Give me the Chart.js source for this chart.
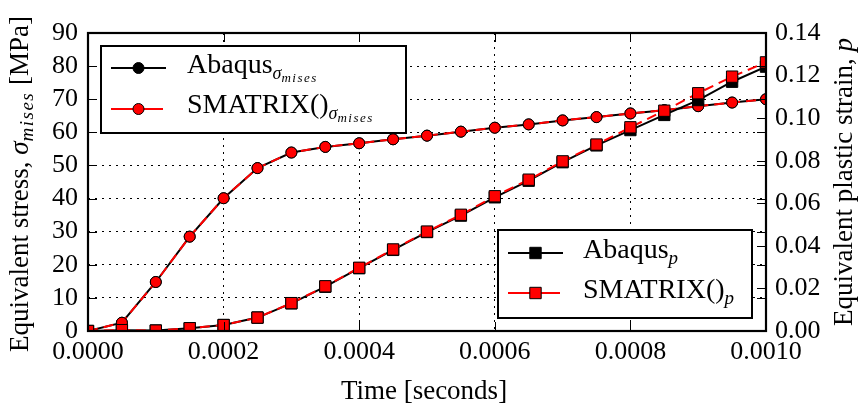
<!DOCTYPE html>
<html>
<head>
<meta charset="utf-8">
<script src="https://cdn.jsdelivr.net/npm/chart.js@4.4.1/dist/chart.umd.min.js"></script>
<style>
html, body { margin: 0; padding: 0; background: #fff; }
#wrap { width: 860px; height: 410px; }
</style>
</head>
<body>
<div id="wrap"><canvas id="grafica" width="860" height="410"></canvas></div>
<script>
// Tiempo de la simulacion [s]
var tiempo = [0, 0.00005, 0.0001, 0.00015, 0.0002, 0.00025, 0.0003, 0.00035, 0.0004, 0.00045, 0.0005,
              0.00055, 0.0006, 0.00065, 0.0007, 0.00075, 0.0008, 0.00085, 0.0009, 0.00095, 0.001];

// Tension equivalente de von Mises [MPa]
var tensionAbaqus  = [0, 2.5, 14.8, 28.5, 40.1, 49.2, 53.9, 55.6, 56.7, 57.9, 59.0,
                      60.2, 61.4, 62.4, 63.6, 64.6, 65.7, 66.7, 67.9, 69.0, 70.0];
var tensionSmatrix = [0, 2.5, 14.8, 28.5, 40.1, 49.2, 53.9, 55.6, 56.7, 57.9, 59.0,
                      60.2, 61.4, 62.4, 63.6, 64.6, 65.7, 66.7, 67.9, 69.0, 70.0];

// Deformacion plastica equivalente p
var deformAbaqus  = [0, 0.0004, 0.0002, 0.0013, 0.0028, 0.0063, 0.0130, 0.0208, 0.0295, 0.0381, 0.0465,
                     0.0542, 0.0628, 0.0706, 0.0793, 0.0872, 0.0944, 0.1015, 0.1085, 0.1171, 0.1242];
var deformSmatrix = [0, 0.0004, 0.0002, 0.0013, 0.0028, 0.0063, 0.0131, 0.0210, 0.0297, 0.0383, 0.0467,
                     0.0546, 0.0633, 0.0711, 0.0797, 0.0876, 0.0957, 0.1035, 0.1117, 0.1195, 0.1262];

// Nombres de las series (texto base + subindice)
var nombres = ["Abaqus", "SMATRIX()"];

var fuente = "'Liberation Serif', 'Times New Roman', serif";

function puntos(xs, ys) {
  var lista = [];
  for (var i = 0; i < xs.length; i++) lista.push({ x: xs[i], y: ys[i] });
  return lista;
}

// Dibuja un texto formado por partes: [texto, fuente, desplazamiento, espaciado]
function textoCompuesto(ctx, partes, x, y, centrado) {
  var ancho = 0;
  partes.forEach(function (p) {
    ctx.font = p[1];
    ctx.letterSpacing = (p[3] || 0) + "px";
    ancho += ctx.measureText(p[0]).width;
  });
  var cx = centrado ? x - ancho / 2 : x;
  partes.forEach(function (p) {
    ctx.font = p[1];
    ctx.letterSpacing = (p[3] || 0) + "px";
    ctx.fillText(p[0], cx, y + p[2]);
    cx += ctx.measureText(p[0]).width;
  });
  ctx.letterSpacing = "0px";
}

function marcador(ctx, tipo, x, y, relleno) {
  ctx.save();
  ctx.fillStyle = relleno;
  ctx.strokeStyle = "#000";
  ctx.lineWidth = 1;
  ctx.setLineDash([]);
  ctx.beginPath();
  if (tipo === "circle") ctx.arc(x, y, 5.5, 0, Math.PI * 2);
  else ctx.rect(x - 5.7, y - 5.7, 11.4, 11.4);
  ctx.fill();
  ctx.stroke();
  ctx.restore();
}

function muestra(ctx, x0, x1, y, color, dash, tipo) {
  ctx.save();
  ctx.strokeStyle = color;
  ctx.lineWidth = 2;
  ctx.setLineDash(dash);
  ctx.beginPath();
  ctx.moveTo(x0, y);
  ctx.lineTo(x1, y);
  ctx.stroke();
  ctx.restore();
  marcador(ctx, tipo, (x0 + x1) / 2, y, color);
}

function caja(ctx, x, y, w, h) {
  ctx.save();
  ctx.fillStyle = "#fff";
  ctx.fillRect(x, y, w, h);
  ctx.strokeStyle = "#000";
  ctx.lineWidth = 2;
  ctx.strokeRect(x, y, w, h);
  ctx.restore();
}

// Marco del area y ticks hacia adentro
var marco = {
  id: "marco",
  afterDatasetsDraw: function (chart) {
    var ctx = chart.ctx, a = chart.chartArea;
    var sx = chart.scales.x, sy = chart.scales.y, sy2 = chart.scales.y2;
    ctx.save();
    ctx.strokeStyle = "#000";
    ctx.lineWidth = 1;
    ctx.beginPath();
    sx.ticks.forEach(function (t) {
      var px = Math.round(sx.getPixelForValue(t.value)) + 0.5;
      ctx.moveTo(px, a.bottom); ctx.lineTo(px, a.bottom - 9);
      ctx.moveTo(px, a.top); ctx.lineTo(px, a.top + 9);
    });
    sy.ticks.forEach(function (t) {
      var py = Math.round(sy.getPixelForValue(t.value)) + 0.5;
      ctx.moveTo(a.left, py); ctx.lineTo(a.left + 9, py);
      ctx.moveTo(a.right, py); ctx.lineTo(a.right - 9, py);
    });
    sy2.ticks.forEach(function (t) {
      var py = Math.round(sy2.getPixelForValue(t.value)) + 0.5;
      ctx.moveTo(a.right, py); ctx.lineTo(a.right - 9, py);
    });
    ctx.stroke();
    ctx.lineWidth = 2.2;
    ctx.strokeRect(a.left, a.top, a.right - a.left, a.bottom - a.top);
    ctx.restore();
  }
};

// Titulos de ejes y leyendas
var textos = {
  id: "textos",
  afterDraw: function (chart) {
    var ctx = chart.ctx;
    ctx.save();
    ctx.fillStyle = "#000";
    ctx.textBaseline = "alphabetic";

    // eje x
    textoCompuesto(ctx, [["Time [seconds]", "27px " + fuente, 0]], 424, 399, true);

    // eje y izquierdo
    ctx.save();
    ctx.translate(28, 184);
    ctx.rotate(-Math.PI / 2);
    textoCompuesto(ctx, [
      ["Equivalent stress, ", "27px " + fuente, 0],
      ["\u03c3", "italic 27px " + fuente, 0],
      ["mises", "italic 19px " + fuente, 5, 1.5],
      [" [MPa]", "27px " + fuente, 0]
    ], 0, 0, true);
    ctx.restore();

    // eje y derecho
    ctx.save();
    ctx.translate(852, 182);
    ctx.rotate(-Math.PI / 2);
    textoCompuesto(ctx, [
      ["Equivalent plastic strain, ", "27px " + fuente, 0],
      ["p", "italic 27px " + fuente, 0]
    ], 0, 0, true);
    ctx.restore();

    // leyenda de tension
    caja(ctx, 101, 46, 305, 87);
    muestra(ctx, 111, 166, 68, "#000", [], "circle");
    muestra(ctx, 111, 166, 109, "#ff0000", [22, 8], "circle");
    ctx.fillStyle = "#000";
    var subSigma = [["\u03c3", "italic 18px " + fuente, 6], ["mises", "italic 13px " + fuente, 9, 1.5]];
    textoCompuesto(ctx, [[nombres[0], "28px " + fuente, 0]].concat(subSigma), 187, 73, false);
    textoCompuesto(ctx, [[nombres[1], "28px " + fuente, 0]].concat(subSigma), 187, 113, false);

    // leyenda de deformacion
    caja(ctx, 498, 230, 254, 88);
    muestra(ctx, 508, 563, 253, "#000", [], "rect");
    muestra(ctx, 508, 563, 293, "#ff0000", [22, 8], "rect");
    ctx.fillStyle = "#000";
    var subP = [["p", "italic 19px " + fuente, 6]];
    textoCompuesto(ctx, [[nombres[0], "28px " + fuente, 0]].concat(subP), 583, 258, false);
    textoCompuesto(ctx, [[nombres[1], "28px " + fuente, 0]].concat(subP), 583, 298, false);

    ctx.restore();
  }
};

var fuenteTicks = { family: fuente, size: 26 };

var ctx1 = document.getElementById("grafica").getContext("2d");
var grafica = new Chart(ctx1, {
  type: "line",
  data: {
    datasets: [
      {
        label: "SMATRIX() p",
        data: puntos(tiempo, deformSmatrix),
        yAxisID: "y2",
        borderColor: "#ff0000",
        borderDash: [10, 6],
        borderWidth: 2,
        pointStyle: "rect",
        pointRadius: 8,
        pointBackgroundColor: "#ff0000",
        pointBorderColor: "#000",
        pointBorderWidth: 1,
        order: 0
      },
      {
        label: "Abaqus p",
        data: puntos(tiempo, deformAbaqus),
        yAxisID: "y2",
        borderColor: "#000",
        borderWidth: 2,
        pointStyle: "rect",
        pointRadius: 8,
        pointBackgroundColor: "#000",
        pointBorderColor: "#000",
        pointBorderWidth: 1,
        order: 1
      },
      {
        label: "SMATRIX() mises",
        data: puntos(tiempo, tensionSmatrix),
        yAxisID: "y",
        borderColor: "#ff0000",
        borderDash: [10, 6],
        borderWidth: 2,
        pointStyle: "circle",
        pointRadius: 5.5,
        pointBackgroundColor: "#ff0000",
        pointBorderColor: "#000",
        pointBorderWidth: 1,
        order: 2
      },
      {
        label: "Abaqus mises",
        data: puntos(tiempo, tensionAbaqus),
        yAxisID: "y",
        borderColor: "#000",
        borderWidth: 2,
        pointStyle: "circle",
        pointRadius: 5.5,
        pointBackgroundColor: "#000",
        pointBorderColor: "#000",
        pointBorderWidth: 1,
        order: 3
      }
    ]
  },
  options: {
    responsive: false,
    animation: false,
    events: [],
    layout: { padding: { top: 33, left: 0, right: 0, bottom: 0 } },
    plugins: { legend: { display: false }, tooltip: { enabled: false } },
    scales: {
      x: {
        type: "linear",
        min: 0,
        max: 0.001,
        ticks: {
          stepSize: 0.0002,
          color: "#000",
          font: fuenteTicks,
          padding: 6,
          maxRotation: 0,
          autoSkip: false,
          callback: function (v) { return v.toFixed(4); }
        },
        grid: { color: "#000", lineWidth: 1, drawTicks: false },
        border: { display: false, dash: [2, 5] },
        afterFit: function (s) { s.height = 79; }
      },
      y: {
        position: "left",
        min: 0,
        max: 90,
        ticks: { stepSize: 10, color: "#000", font: fuenteTicks, padding: 10, autoSkip: false },
        grid: { color: "#000", lineWidth: 1, drawTicks: false },
        border: { display: false, dash: [2, 5] },
        afterFit: function (s) { s.width = 88; }
      },
      y2: {
        position: "right",
        min: 0,
        max: 0.14,
        ticks: {
          stepSize: 0.02,
          color: "#000",
          font: fuenteTicks,
          padding: 9,
          autoSkip: false,
          callback: function (v) { return v.toFixed(2); }
        },
        grid: { display: false, drawTicks: false },
        border: { display: false },
        afterFit: function (s) { s.width = 94; }
      }
    }
  },
  plugins: [marco, textos]
});
</script>
</body>
</html>
